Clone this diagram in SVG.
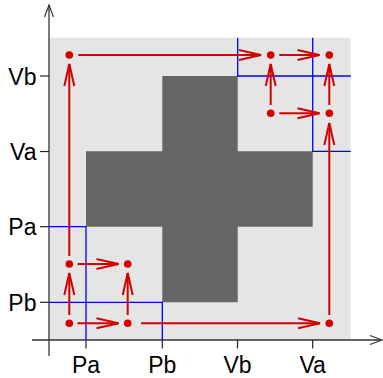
<svg xmlns="http://www.w3.org/2000/svg" width="383" height="378" viewBox="0 0 383 378">
<defs>
<marker id="ah" markerUnits="userSpaceOnUse" markerWidth="30" markerHeight="14" viewBox="-24 -7 26 14" refX="0" refY="0" orient="auto" overflow="visible">
<path d="M -22 -5 L 0 0 L -22 5" fill="none" stroke="#d40000" stroke-width="2"/>
</marker>
<marker id="ax" markerUnits="userSpaceOnUse" markerWidth="16" markerHeight="12" viewBox="-14 -6 16 12" refX="0" refY="0" orient="auto" overflow="visible">
<path d="M -12 -4.5 L 0 0 L -12 4.5" fill="none" stroke="#333" stroke-width="1.2"/>
</marker>
</defs>
<style>
.lbl{font-family:"Liberation Sans",Arial,sans-serif;font-size:23px;fill:#000}
.blue{stroke:#0000ff;stroke-width:1.3;fill:none}
.axis{stroke:#333;stroke-width:1.3;fill:none}
.tick{stroke:#222;stroke-width:1.2}
.conn{stroke:#d40000;stroke-width:2;fill:none;marker-end:url(#ah)}
.dot{fill:#d40000}
</style>
<rect x="49" y="37.7" width="301.7" height="302.3" fill="#e5e5e5"/>
<path d="M162.3 76 H237.7 V151.3 H312.7 V226.7 H237.7 V302.3 H162.3 V226.7 H86 V151.3 H162.3 Z" fill="#666666"/>
<g id="guides">
<path class="blue" d="M49 226.7 H86 V340"/>
<path class="blue" d="M49 302.3 H162.3 V340"/>
<path class="blue" d="M237.7 37.7 V76 H350.7"/>
<path class="blue" d="M312.7 37.7 V151.3 H350.7"/>
</g>
<g id="axes">
<line class="axis" x1="49" y1="356" x2="49" y2="5" marker-end="url(#ax)"/>
<line class="axis" x1="32" y1="340" x2="382" y2="340" marker-end="url(#ax)"/>
<line class="tick" x1="40" y1="76" x2="49" y2="76"/>
<line class="tick" x1="40" y1="151.5" x2="49" y2="151.5"/>
<line class="tick" x1="40" y1="226.7" x2="49" y2="226.7"/>
<line class="tick" x1="40" y1="302.3" x2="49" y2="302.3"/>
<line class="tick" x1="86" y1="340" x2="86" y2="348.5"/>
<line class="tick" x1="162.3" y1="340" x2="162.3" y2="348.5"/>
<line class="tick" x1="237.5" y1="340" x2="237.5" y2="348.5"/>
<line class="tick" x1="312.7" y1="340" x2="312.7" y2="348.5"/>
<text class="lbl" x="36.5" y="84.5" text-anchor="end">Vb</text>
<text class="lbl" x="36.5" y="160" text-anchor="end">Va</text>
<text class="lbl" x="36.5" y="235" text-anchor="end">Pa</text>
<text class="lbl" x="36.5" y="311" text-anchor="end">Pb</text>
<text class="lbl" x="86" y="373" text-anchor="middle">Pa</text>
<text class="lbl" x="162.3" y="373" text-anchor="middle">Pb</text>
<text class="lbl" x="237.5" y="373" text-anchor="middle">Vb</text>
<text class="lbl" x="312.7" y="373" text-anchor="middle">Va</text>
</g>
<g id="connectors">
<line class="conn" x1="77.5" y1="323.3" x2="118.5" y2="323.3"/>
<line class="conn" x1="69.3" y1="315" x2="69.3" y2="273"/>
<line class="conn" x1="127.7" y1="315" x2="127.7" y2="273"/>
<line class="conn" x1="77.5" y1="264" x2="118.5" y2="264"/>
<line class="conn" x1="69.3" y1="256" x2="69.3" y2="64"/>
<line class="conn" x1="141" y1="323.3" x2="320" y2="323.3"/>
<line class="conn" x1="78.3" y1="55" x2="261" y2="55"/>
<line class="conn" x1="279.3" y1="55" x2="319.5" y2="55"/>
<line class="conn" x1="270.7" y1="105" x2="270.7" y2="64"/>
<line class="conn" x1="279.3" y1="113.3" x2="319.5" y2="113.3"/>
<line class="conn" x1="329.3" y1="105" x2="329.3" y2="64"/>
<line class="conn" x1="329.3" y1="315" x2="329.3" y2="123"/>
</g>
<g id="nA"><circle class="dot" cx="69.3" cy="323.3" r="3.8"/></g>
<g id="nB"><circle class="dot" cx="127.7" cy="323.3" r="3.8"/></g>
<g id="nC"><circle class="dot" cx="69.3" cy="264" r="3.8"/></g>
<g id="nD"><circle class="dot" cx="127.7" cy="264" r="3.8"/></g>
<g id="nE"><circle class="dot" cx="69.3" cy="55" r="3.8"/></g>
<g id="nF"><circle class="dot" cx="270.7" cy="55" r="3.8"/></g>
<g id="nG"><circle class="dot" cx="329.3" cy="55" r="3.8"/></g>
<g id="nH"><circle class="dot" cx="270.7" cy="113.3" r="3.8"/></g>
<g id="nI"><circle class="dot" cx="329.3" cy="113.3" r="3.8"/></g>
<g id="nJ"><circle class="dot" cx="329.3" cy="323.3" r="3.8"/></g>
</svg>
